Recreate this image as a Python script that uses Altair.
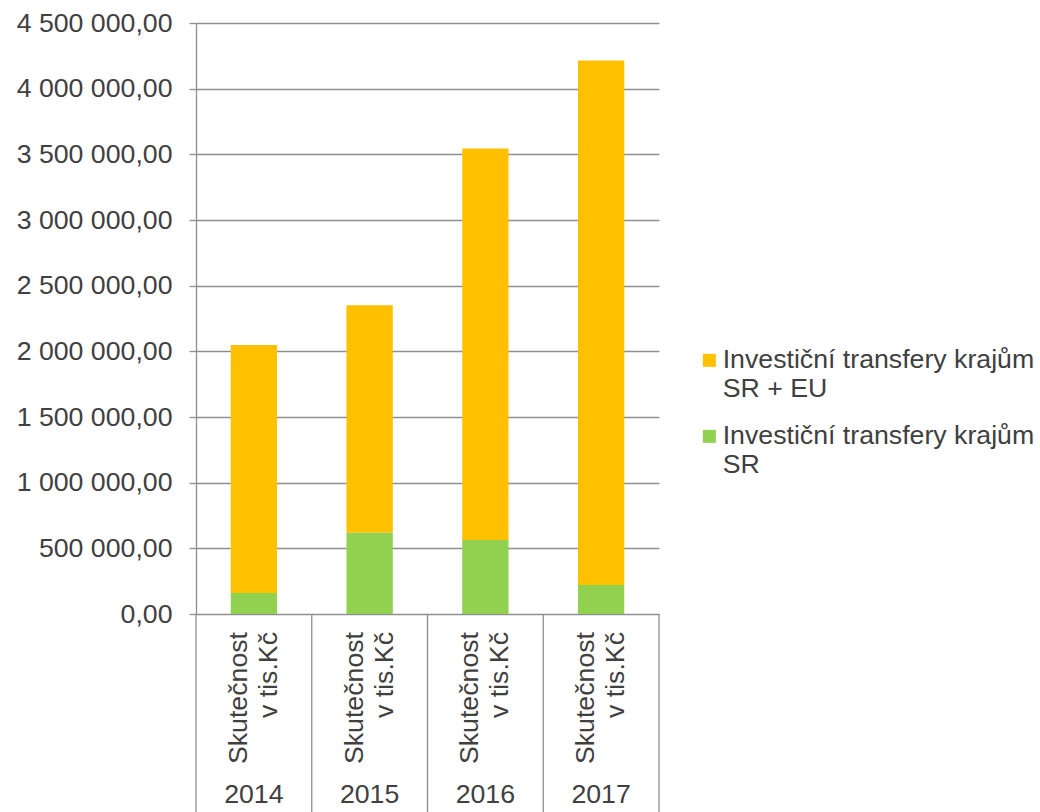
import altair as alt
import pandas as pd

years = ["2014", "2015", "2016", "2017"]
sub_labels = ["Skutečnost\nv tis.Kč", "Skutečnost\nv tis.Kč", "Skutečnost\nv tis.Kč", "Skutečnost\nv tis.Kč"]
series_sr_eu = "Investiční transfery krajům SR + EU"
series_sr = "Investiční transfery krajům SR"
values_sr = [160000, 621000, 564000, 221000]
values_sr_eu = [1889000, 1729000, 2980000, 3993000]
y_ticks = [0, 500000, 1000000, 1500000, 2000000, 2500000, 3000000, 3500000, 4000000, 4500000]
colors = ["#FFC000", "#92D050"]

FONT = "Liberation Sans"
FS = 26.7
TXT = "#404040"
GRID = "#8E8E8E"
W, H = 463, 591
STEP = W / len(years)

rows = []
for i, yr in enumerate(years):
    rows.append({"year": yr, "series": series_sr, "value": values_sr[i], "ord": 0})
    rows.append({"year": yr, "series": series_sr_eu, "value": values_sr_eu[i], "ord": 1})
df = pd.DataFrame(rows)
cat_df = pd.DataFrame({"year": years, "sub": sub_labels})

xscale = alt.Scale(domain=years, paddingInner=0.6, paddingOuter=0.3)
xenc = alt.X("year:N", scale=xscale, axis=None)

label_expr = ("replace(replace(format(datum.value, ',.2f'), regexp(',', 'g'), ' '), '.', ',')")
leg_expr = ("[slice(datum.label, 0, indexof(datum.label, 'krajům') + 6), "
            "slice(datum.label, indexof(datum.label, 'krajům') + 7)]")

bars = alt.Chart(df).mark_bar().encode(
    x=xenc,
    y=alt.Y("value:Q", stack="zero",
            scale=alt.Scale(domain=[0, 4500000], nice=False),
            axis=alt.Axis(values=y_ticks, labelExpr=label_expr, title=None,
                          grid=True, gridColor=GRID, gridWidth=1.3,
                          domainColor=GRID, domainWidth=1.3,
                          tickColor=GRID, tickWidth=1.3, tickSize=7,
                          labelPadding=17, labelFontSize=FS, labelFont=FONT,
                          labelColor=TXT, labelLimit=400)),
    color=alt.Color("series:N",
                    scale=alt.Scale(domain=[series_sr_eu, series_sr], range=colors),
                    legend=alt.Legend(orient="none", legendX=500, legendY=324,
                                      title=None, symbolType="square", symbolSize=169,
                                      symbolStrokeWidth=0, labelFontSize=FS,
                                      labelFont=FONT, labelColor=TXT, labelLimit=500,
                                      labelOffset=0, rowPadding=20,
                                      labelExpr=leg_expr)),
    order=alt.Order("ord:Q"),
)

sep = alt.Chart(cat_df).mark_rule(color=GRID, strokeWidth=1.3, xOffset=-STEP / 2).encode(
    x=xenc, y=alt.value(H), y2=alt.value(812 - 23))
sep_last = alt.Chart(cat_df.tail(1)).mark_rule(color=GRID, strokeWidth=1.3, xOffset=STEP / 2).encode(
    x=xenc, y=alt.value(H), y2=alt.value(812 - 23))

subs = alt.Chart(cat_df).mark_text(angle=270, align="right", baseline="middle", lineBreak="\n",
                                   fontSize=FS, font=FONT, color=TXT, lineHeight=30,
                                   dy=-15).encode(
    x=xenc, y=alt.value(H + 18), text="sub:N")

yrs = alt.Chart(cat_df).mark_text(baseline="middle", fontSize=FS, font=FONT, color=TXT).encode(
    x=xenc, y=alt.value(772), text="year:N")

chart = alt.layer(bars, sep, sep_last, subs, yrs).properties(
    width=W, height=H,
    autosize=alt.AutoSizeParams(type="none"),
    padding={"left": 196, "top": 23, "right": 1040 - 659, "bottom": 812 - 614},
    background="white",
).configure_view(stroke=None)

chart.save("out.html", embed_options={"renderer": "svg", "actions": False})
